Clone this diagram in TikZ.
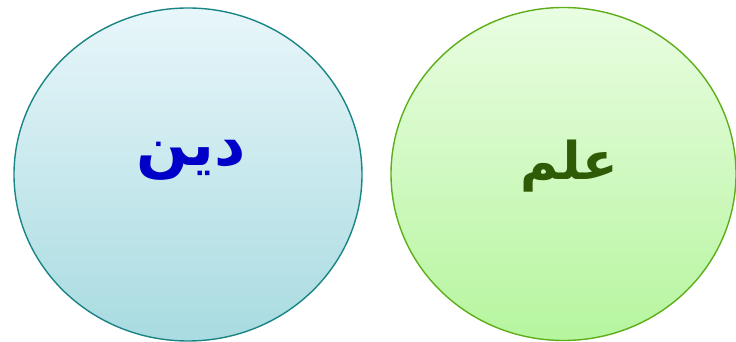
\documentclass[tikz,border=0pt]{standalone}
\usepackage{fontspec}
\usetikzlibrary{shapes.geometric,positioning}
\TeXXeTstate=1
\newfontfamily\arabicfont[Script=Arabic]{DejaVu Sans}
\definecolor{dinline}{HTML}{1A8585}
\definecolor{dintop}{HTML}{E8F6FA}
\definecolor{dinbot}{HTML}{A8DBE0}
\definecolor{dintext}{HTML}{0000C8}
\definecolor{ilmline}{HTML}{5DAE1A}
\definecolor{ilmtop}{HTML}{E9FDE2}
\definecolor{ilmbot}{HTML}{B6F59E}
\definecolor{ilmtext}{HTML}{2F5A06}

\begin{document}
\begin{tikzpicture}[
      x=1pt, y=1pt,
      bubble/.style={ellipse, draw, line width=1.4pt, inner sep=0pt,
        minimum width=348pt, minimum height=333pt},
      word/.style={font=\arabicfont\bfseries\fontsize{#1}{#1}\selectfont}
    ]
    \useasboundingbox (0,0) rectangle (736,342);
    % two bubbles side by side
    \node[bubble, draw=dinline, top color=dintop, bottom color=dinbot] (din) at (188,167.5) {};
    \node[bubble, draw=ilmline, top color=ilmtop, bottom color=ilmbot,
      minimum width=345pt] (ilm) at (563.5,168) {};
    % words, a little above the centre
    \node[word=61, text=dintext] (dintxt) at (191,182) {\beginR دين\endR};
    \node[word=52, text=ilmtext] (ilmtxt) at (569,176) {\beginR علم\endR};
  \end{tikzpicture}
\end{document}
